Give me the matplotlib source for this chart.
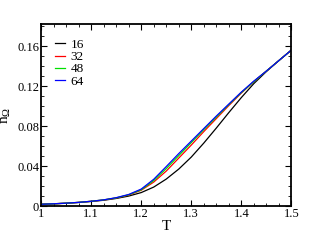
import matplotlib
matplotlib.use("Agg")
import matplotlib.pyplot as plt
from matplotlib.ticker import MultipleLocator, FuncFormatter

# Temperature grid and n_Omega values
T = [1.0, 1.025, 1.05, 1.075, 1.1, 1.125, 1.15, 1.175, 1.2, 1.225, 1.25,
     1.275, 1.3, 1.325, 1.35, 1.375, 1.4, 1.425, 1.45, 1.475, 1.5]

n16 = [0.0018, 0.0022, 0.0028, 0.0036, 0.0046, 0.0058, 0.0076, 0.0100, 0.0135,
       0.0190, 0.0270, 0.0370, 0.0490, 0.0630, 0.0780, 0.0935, 0.1085, 0.1225,
       0.1345, 0.1455, 0.1560]
n32 = [0.0018, 0.0023, 0.0029, 0.0037, 0.0048, 0.0061, 0.0081, 0.0110, 0.0158,
       0.0240, 0.0350, 0.0480, 0.0610, 0.0745, 0.0875, 0.1005, 0.1130, 0.1245,
       0.1350, 0.1455, 0.1560]
n48 = [0.0018, 0.0023, 0.0029, 0.0037, 0.0048, 0.0062, 0.0082, 0.0113, 0.0163,
       0.0255, 0.0375, 0.0505, 0.0635, 0.0765, 0.0890, 0.1015, 0.1135, 0.1245,
       0.1350, 0.1455, 0.1560]
n64 = [0.0018, 0.0023, 0.0029, 0.0037, 0.0048, 0.0062, 0.0084, 0.0116, 0.0170,
       0.0268, 0.0395, 0.0525, 0.0650, 0.0775, 0.0900, 0.1020, 0.1140, 0.1250,
       0.1350, 0.1455, 0.1560]

labels = ["16", "32", "48", "64"]
colors = ["black", "red", "#00e000", "blue"]

plt.rcParams["font.family"] = ["Liberation Serif", "DejaVu Serif"]
plt.rcParams["mathtext.fontset"] = "custom"
plt.rcParams["mathtext.rm"] = "Liberation Serif"
plt.rcParams["mathtext.it"] = "Liberation Serif"

fig = plt.figure(figsize=(3.14, 2.43), dpi=100)
ax = fig.add_axes([0.131, 0.152, 0.797, 0.749])

for y, lab, c in zip([n16, n32, n48, n64], labels, colors):
    ax.plot(T, y, color=c, lw=0.9, label=lab)

ax.set_xlim(1.0, 1.5)
ax.set_ylim(0, 0.182)
ax.xaxis.set_major_locator(MultipleLocator(0.1))
ax.xaxis.set_minor_locator(MultipleLocator(0.025))
ax.yaxis.set_major_locator(MultipleLocator(0.04))
ax.yaxis.set_minor_locator(MultipleLocator(0.01))
ax.xaxis.set_major_formatter(FuncFormatter(lambda v, p: f"{v:g}"))
ax.yaxis.set_major_formatter(FuncFormatter(lambda v, p: f"{round(v, 2):g}"))

ax.tick_params(which="both", direction="in", top=True, right=True, labelsize=9, pad=1.5)
ax.tick_params(which="major", length=4, width=0.8)
ax.tick_params(which="minor", length=2, width=0.6)
for s in ax.spines.values():
    s.set_linewidth(1.3)

ax.set_xlabel("T", fontsize=11, labelpad=0)
ax.set_ylabel(r"n$_\Omega$", fontsize=11, labelpad=3)

ax.legend(loc="upper left", bbox_to_anchor=(0.02, 0.97), frameon=False, fontsize=9.5,
          handlelength=0.7, handletextpad=0.45, labelspacing=0.0, borderpad=0.2)

fig.savefig("out.png", dpi=100)
